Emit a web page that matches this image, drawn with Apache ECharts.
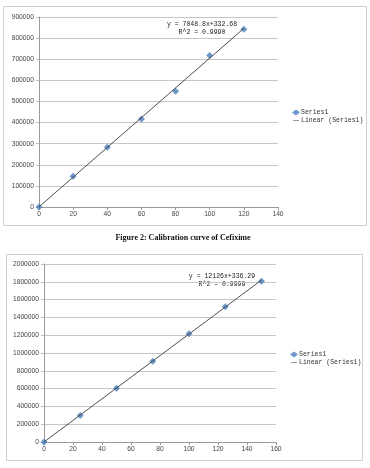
<!DOCTYPE html>
<html><head><meta charset="utf-8">
<script src="https://cdn.jsdelivr.net/npm/echarts@6/dist/echarts.min.js"></script>
<style>html,body{margin:0;padding:0;background:#fff}#c{width:370px;height:468px}</style>
</head><body><div id="c"></div>
<script>
// Chart 1 data
const x1 = [0, 20, 40, 60, 80, 100, 120];
const y1 = [0, 146000, 283000, 417000, 548000, 718000, 842000];
const fit1 = [7048.8, 332.68];      // slope, intercept
const eq1 = ['y = 7048.8x+332.68', 'R^2 = 0.9990'];
// Chart 2 data
const x2 = [0, 25, 50, 75, 100, 125, 150];
const y2 = [0, 298000, 603000, 906000, 1215000, 1519000, 1805000];
const fit2 = [12126, 336.29];
const eq2 = ['y = 12126x+336.29', 'R^2 = 0.9999'];
const caption = 'Figure 2: Calibration curve of Cefixime';
const seriesName = 'Series1';
const trendName = 'Linear (Series1)';

const pts = (xs, ys) => xs.map((v, i) => [v, ys[i]]);
const trend = (xs, f) => [[xs[0], f[0]*xs[0]+f[1]], [xs[xs.length-1], f[0]*xs[xs.length-1]+f[1]]];

const tickFont = {fontSize: 6.7, color: '#444', fontFamily: 'Liberation Sans', formatter: v => String(v)};
const mono = 'Liberation Mono';
function xAxis(gi, max) {
  return {type:'value', gridIndex:gi, min:0, max:max, interval:20,
    axisLine:{lineStyle:{color:'#9a9a9a', width:1}},
    axisTick:{show:true, length:3, lineStyle:{color:'#9a9a9a'}},
    axisLabel:Object.assign({margin:4}, tickFont),
    splitLine:{show:false}};
}
function yAxis(gi, max, itv) {
  return {type:'value', gridIndex:gi, min:0, max:max, interval:itv,
    axisLine:{show:true, lineStyle:{color:'#9a9a9a', width:1}},
    axisTick:{show:true, length:3, lineStyle:{color:'#bdbdbd'}},
    axisLabel:Object.assign({margin:5}, tickFont),
    splitLine:{show:true, lineStyle:{color:'#c6c6c6', width:1}}};
}
const mk = {symbol:'diamond', symbolSize:7, itemStyle:{color:'#4a7ebb'}};
const ln = {symbol:'none', lineStyle:{color:'#3a3a3a', width:0.9}, itemStyle:{color:'#3a3a3a'}};
const lineIcon = 'path://M0,0L0.01,0L0,0.01Z M0,4.6L10,4.6L10,5.4L0,5.4Z M0,10L0.01,10L0,9.99Z';
const legendData = [{name:seriesName}, {name:trendName, icon:lineIcon}];

const chart = echarts.init(document.getElementById('c'), null, {renderer:'canvas'});
chart.setOption({
  animation:false,
  grid:[
    {left:39, right:92, top:17, bottom:261},
    {left:44, right:94, top:264, bottom:26}
  ],
  xAxis:[xAxis(0,140), xAxis(1,160)],
  yAxis:[yAxis(0,900000,100000), yAxis(1,2000000,200000)],
  legend:[
    {orient:'vertical', left:287, top:104, itemWidth:8, itemHeight:6, itemGap:1,
     textStyle:{fontSize:6.5, fontFamily:mono, color:'#333', padding:[0,0,0,-4]},
     data:legendData, selectedMode:false},
    {orient:'vertical', left:285, top:346, itemWidth:8, itemHeight:6, itemGap:1,
     textStyle:{fontSize:6.5, fontFamily:mono, color:'#333', padding:[0,0,0,-4]},
     data:legendData, selectedMode:false}
  ],
  graphic:[
    {type:'rect', shape:{x:3.5, y:6.5, width:363, height:219}, style:{fill:'none', stroke:'#cfcfcf', lineWidth:1}, z:-1},
    {type:'rect', shape:{x:6.5, y:254.5, width:356, height:206}, style:{fill:'none', stroke:'#cfcfcf', lineWidth:1}, z:-1},
    {type:'text', x:202, y:21, style:{text:eq1.join('\n'), fontSize:6.5, fontFamily:mono, fill:'#222', textAlign:'center', lineHeight:7.5}},
    {type:'text', x:222, y:273, style:{text:eq2.join('\n'), fontSize:6.5, fontFamily:mono, fill:'#222', textAlign:'center', lineHeight:7.5}},
    {type:'text', x:183, y:234, style:{text:caption, fontSize:8, fontWeight:'bold', fontFamily:'Liberation Serif', fill:'#111', textAlign:'center'}}
  ],
  series:[
    Object.assign({type:'line', name:trendName, xAxisIndex:0, yAxisIndex:0, data:trend(x1, fit1), z:3}, ln),
    Object.assign({type:'scatter', name:seriesName, xAxisIndex:0, yAxisIndex:0, data:pts(x1, y1), z:2}, mk),
    Object.assign({type:'line', name:trendName, xAxisIndex:1, yAxisIndex:1, data:trend(x2, fit2), z:3}, ln),
    Object.assign({type:'scatter', name:seriesName, xAxisIndex:1, yAxisIndex:1, data:pts(x2, y2), z:2}, mk)
  ]
});
</script></body></html>
